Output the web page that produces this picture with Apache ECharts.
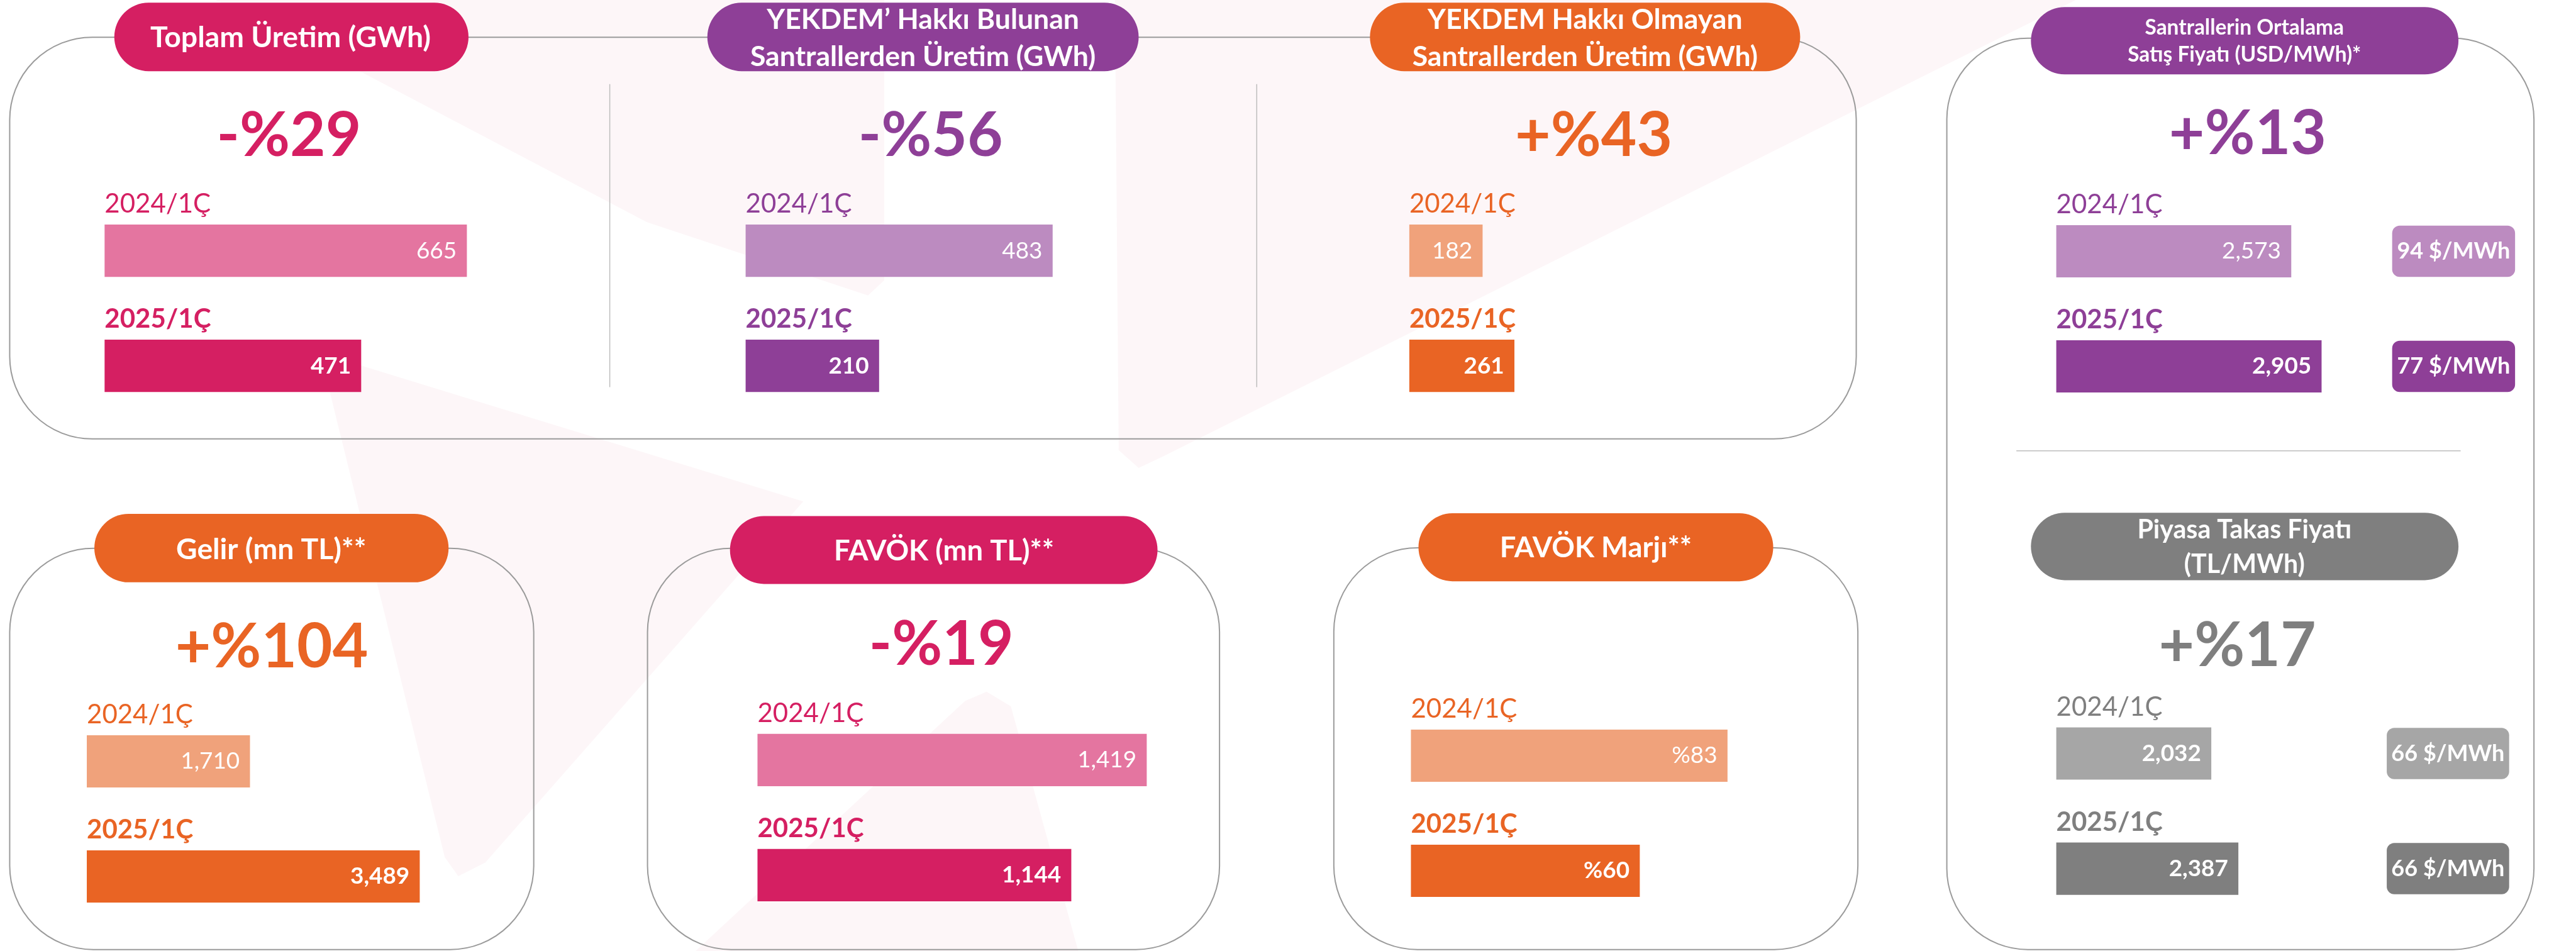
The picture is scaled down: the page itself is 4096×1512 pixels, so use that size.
<!DOCTYPE html>
<html>
<head>
<meta charset="utf-8">
<script src="https://cdn.jsdelivr.net/npm/echarts@6/dist/echarts.min.js"></script>
<style>
  html, body { margin: 0; padding: 0; background: #fff; }
  #main { width: 4096px; height: 1512px; }
</style>
</head>
<body>
<div id="main"></div>
<script>
// values
const periods = ['2024/1Ç', '2025/1Ç'];
const toplamUretim = [665, 471];
const yekdemliUretim = [483, 210];
const yekdemsizUretim = [182, 261];
const ortSatisFiyati = [2573, 2905];
const ortSatisUsd = [94, 77];
const ptf = [2032, 2387];
const ptfUsd = [66, 66];
const gelir = [1710, 3489];
const favok = [1419, 1144];
const favokMarji = [83, 60];
const changes = ['-%29', '-%56', '+%43', '+%13', '+%17', '+%104', '-%19'];

// layout is measured on the 4778 wide reference, then scaled down
const S = 4096 / 4778;
const s = v => v * S;
const FONT = 'Lato, "Noto Sans", sans-serif';

const C = {
  pink: '#D51F62', pinkL: '#E475A0',
  purple: '#8E3F97', purpleL: '#BC8BC0',
  orange: '#E96424', orangeL: '#F0A27B',
  gray: '#7F7F7F', grayL: '#A6A6A6'
};

const num = v => String(v).replace(/\B(?=(\d{3})+(?!\d))/g, ',');
const pct = v => '%' + v;

const BAND = 213.5;
const panels = [
  {data: toplamUretim, x: 194, c: 465, max: 700, ppu: 1.0105, col: C.pink, colL: C.pinkL, fmt: num},
  {data: yekdemliUretim, x: 1383, c: 465, max: 500, ppu: 1.179, col: C.purple, colL: C.purpleL, fmt: num},
  {data: yekdemsizUretim, x: 2614, c: 465, max: 300, ppu: 0.747, col: C.orange, colL: C.orangeL, fmt: num},
  {data: ortSatisFiyati, x: 3814, c: 466, max: 3000, ppu: 0.1694, col: C.purple, colL: C.purpleL, fmt: num,
    badge: ortSatisUsd, badgeX: 4437, badgeW: 228},
  {data: ptf, x: 3814, c: 1397.5, max: 2500, ppu: 0.1415, col: C.gray, colL: C.grayL, fmt: num, boldAll: true,
    badge: ptfUsd, badgeX: 4427, badgeW: 227},
  {data: gelir, x: 161, c: 1412, max: 3500, ppu: 0.177, col: C.orange, colL: C.orangeL, fmt: num},
  {data: favok, x: 1405, c: 1409.5, max: 1500, ppu: 0.5088, col: C.pink, colL: C.pinkL, fmt: num},
  {data: favokMarji, x: 2617, c: 1401.5, max: 90, ppu: 7.075, col: C.orange, colL: C.orangeL, fmt: pct}
];

function txt(str, x, y, size, color, opt) {
  opt = opt || {};
  return {
    type: 'text', x: s(x), y: s(y), z: 10, silent: true,
    style: {
      text: str, fill: color, fontFamily: FONT,
      fontSize: s(size), fontWeight: opt.weight || 'bold',
      lineHeight: opt.lh ? s(opt.lh) : undefined,
      align: opt.align || 'center', verticalAlign: 'middle',
      textAlign: opt.align || 'center', textVerticalAlign: 'middle'
    }
  };
}
function box(x, y, w, h, r) {
  return {type: 'rect', z: 1, silent: true, shape: {x: s(x), y: s(y), width: s(w), height: s(h), r: s(r)},
    style: {fill: 'none', stroke: '#9B9B9B', lineWidth: 2}};
}
function pill(x, y, w, h, color) {
  return {type: 'rect', z: 5, silent: true, shape: {x: s(x), y: s(y), width: s(w), height: s(h), r: s(h / 2)},
    style: {fill: color}};
}
function line(x1, y1, x2, y2) {
  return {type: 'line', z: 1, silent: true, shape: {x1: s(x1), y1: s(y1), x2: s(x2), y2: s(y2)},
    style: {stroke: '#BDBDBD', lineWidth: 1.5}};
}
function wm(pts) {
  return {type: 'polygon', z: 0, silent: true, shape: {points: pts.map(p => [s(p[0]), s(p[1])])},
    style: {fill: 'rgba(214, 40, 100, 0.045)'}};
}

const graphic = [
  // faint logo shapes behind everything
  wm([[400, 0], [1640, 0], [1640, 520], [1610, 548], [1200, 412], [673, 135]]),
  wm([[2068, 0], [3850, 0], [2160, 845], [2112, 868], [2075, 835]]),
  wm([[610, 720], [650, 672], [1490, 930], [900, 1600], [850, 1625], [825, 1590]]),
  wm([[1290, 1764], [1790, 1300], [1830, 1283], [1875, 1310], [2000, 1764]]),

  box(18, 69, 3425, 745, 153),
  box(3611, 71, 1089, 1690, 150),
  box(18, 1017, 972, 744, 155),
  box(1201, 1017, 1061, 744, 155),
  box(2474, 1016, 972, 745, 155),

  line(1131, 156, 1131, 718),
  line(2331, 156, 2331, 718),
  line(3740, 836, 4564, 836),

  pill(212, 5, 657, 127, C.pink),
  pill(1312, 5, 800, 127, C.purple),
  pill(2541, 5, 798, 127, C.orange),
  pill(3767, 13, 793, 125, C.purple),
  pill(3767, 951, 793, 125, C.gray),
  pill(175, 953, 657, 127, C.orange),
  pill(1354, 957, 793, 126, C.pink),
  pill(2631, 952, 658, 126, C.orange),

  txt('Toplam Üretim (GWh)', 539, 70, 54, '#fff'),
  txt('YEKDEM’ Hakkı Bulunan\nSantrallerden Üretim (GWh)', 1712, 71, 52, '#fff', {lh: 69}),
  txt('YEKDEM Hakkı Olmayan\nSantrallerden Üretim (GWh)', 2940, 71, 52, '#fff', {lh: 69}),
  txt('Santrallerin Ortalama\nSatış Fiyatı (USD/MWh)*', 4163, 77, 39, '#fff', {lh: 50}),
  txt('Piyasa Takas Fiyatı\n(TL/MWh)', 4163, 1015.5, 48, '#fff', {lh: 64}),
  txt('Gelir (mn TL)**', 503, 1019.5, 54, '#fff'),
  txt('FAVÖK (mn TL)**', 1751, 1022.5, 53, '#fff'),
  txt('FAVÖK Marjı**', 2960, 1017, 53, '#fff'),

  txt(changes[0], 536, 252, 114, C.pink),
  txt(changes[1], 1726, 252, 114, C.purple),
  txt(changes[2], 2956, 252, 114, C.orange),
  txt(changes[3], 4169, 249.5, 114, C.purple),
  txt(changes[4], 4150, 1198.5, 114, C.gray),
  txt(changes[5], 504, 1200.5, 114, C.orange),
  txt(changes[6], 1746, 1196.5, 114, C.pink)
];

const grid = [], xAxis = [], yAxis = [], series = [];
panels.forEach((p, i) => {
  grid.push({left: s(p.x), top: s(p.c - BAND / 2), width: s(p.max * p.ppu), height: s(2 * BAND),
    outerBoundsMode: 'none', containLabel: false});
  xAxis.push({type: 'value', gridIndex: i, min: 0, max: p.max, show: false});
  yAxis.push({type: 'category', gridIndex: i, data: periods, inverse: true, show: false});
  series.push({
    type: 'bar', xAxisIndex: i, yAxisIndex: i, barWidth: s(97), silent: true,
    data: p.data.map((v, j) => ({value: v, itemStyle: {color: j ? p.col : p.colL}}))
  });
  // period label above each bar, value inside the bar end, optional $/MWh badge
  series.push({
    type: 'custom', xAxisIndex: i, yAxisIndex: i, silent: true, z: 4,
    data: p.data.map((v, j) => [v, j]),
    encode: {x: 0, y: 1},
    renderItem: (params, api) => {
      const v = api.value(0), j = api.value(1);
      const a = api.coord([0, j]), b = api.coord([v, j]);
      const kids = [
        {type: 'text', x: a[0], y: b[1] - s(86),
          style: {text: periods[j], fill: p.col, fontFamily: FONT, fontSize: s(49),
            fontWeight: j ? 'bold' : 'normal', align: 'left', verticalAlign: 'middle'}},
        {type: 'text', x: b[0] - s(19), y: b[1],
          style: {text: p.fmt(v), fill: '#fff', fontFamily: FONT, fontSize: s(43),
            fontWeight: (j || p.boldAll) ? 'bold' : 'normal', align: 'right', verticalAlign: 'middle'}}
      ];
      if (p.badge) {
        const h = s(95);
        kids.push({type: 'rect', shape: {x: s(p.badgeX), y: b[1] - h / 2, width: s(p.badgeW), height: h, r: s(14)},
          style: {fill: j ? p.col : p.colL}});
        kids.push({type: 'text', x: s(p.badgeX + p.badgeW / 2), y: b[1],
          style: {text: p.badge[j] + ' $/MWh', fill: '#fff', fontFamily: FONT, fontSize: s(42),
            fontWeight: 'bold', align: 'center', verticalAlign: 'middle'}});
      }
      return {type: 'group', children: kids};
    }
  });
});

const chart = echarts.init(document.getElementById('main'), null, {renderer: 'canvas'});
chart.setOption({
  animation: false,
  backgroundColor: '#fff',
  grid, xAxis, yAxis, series, graphic
});
</script>
</body>
</html>
